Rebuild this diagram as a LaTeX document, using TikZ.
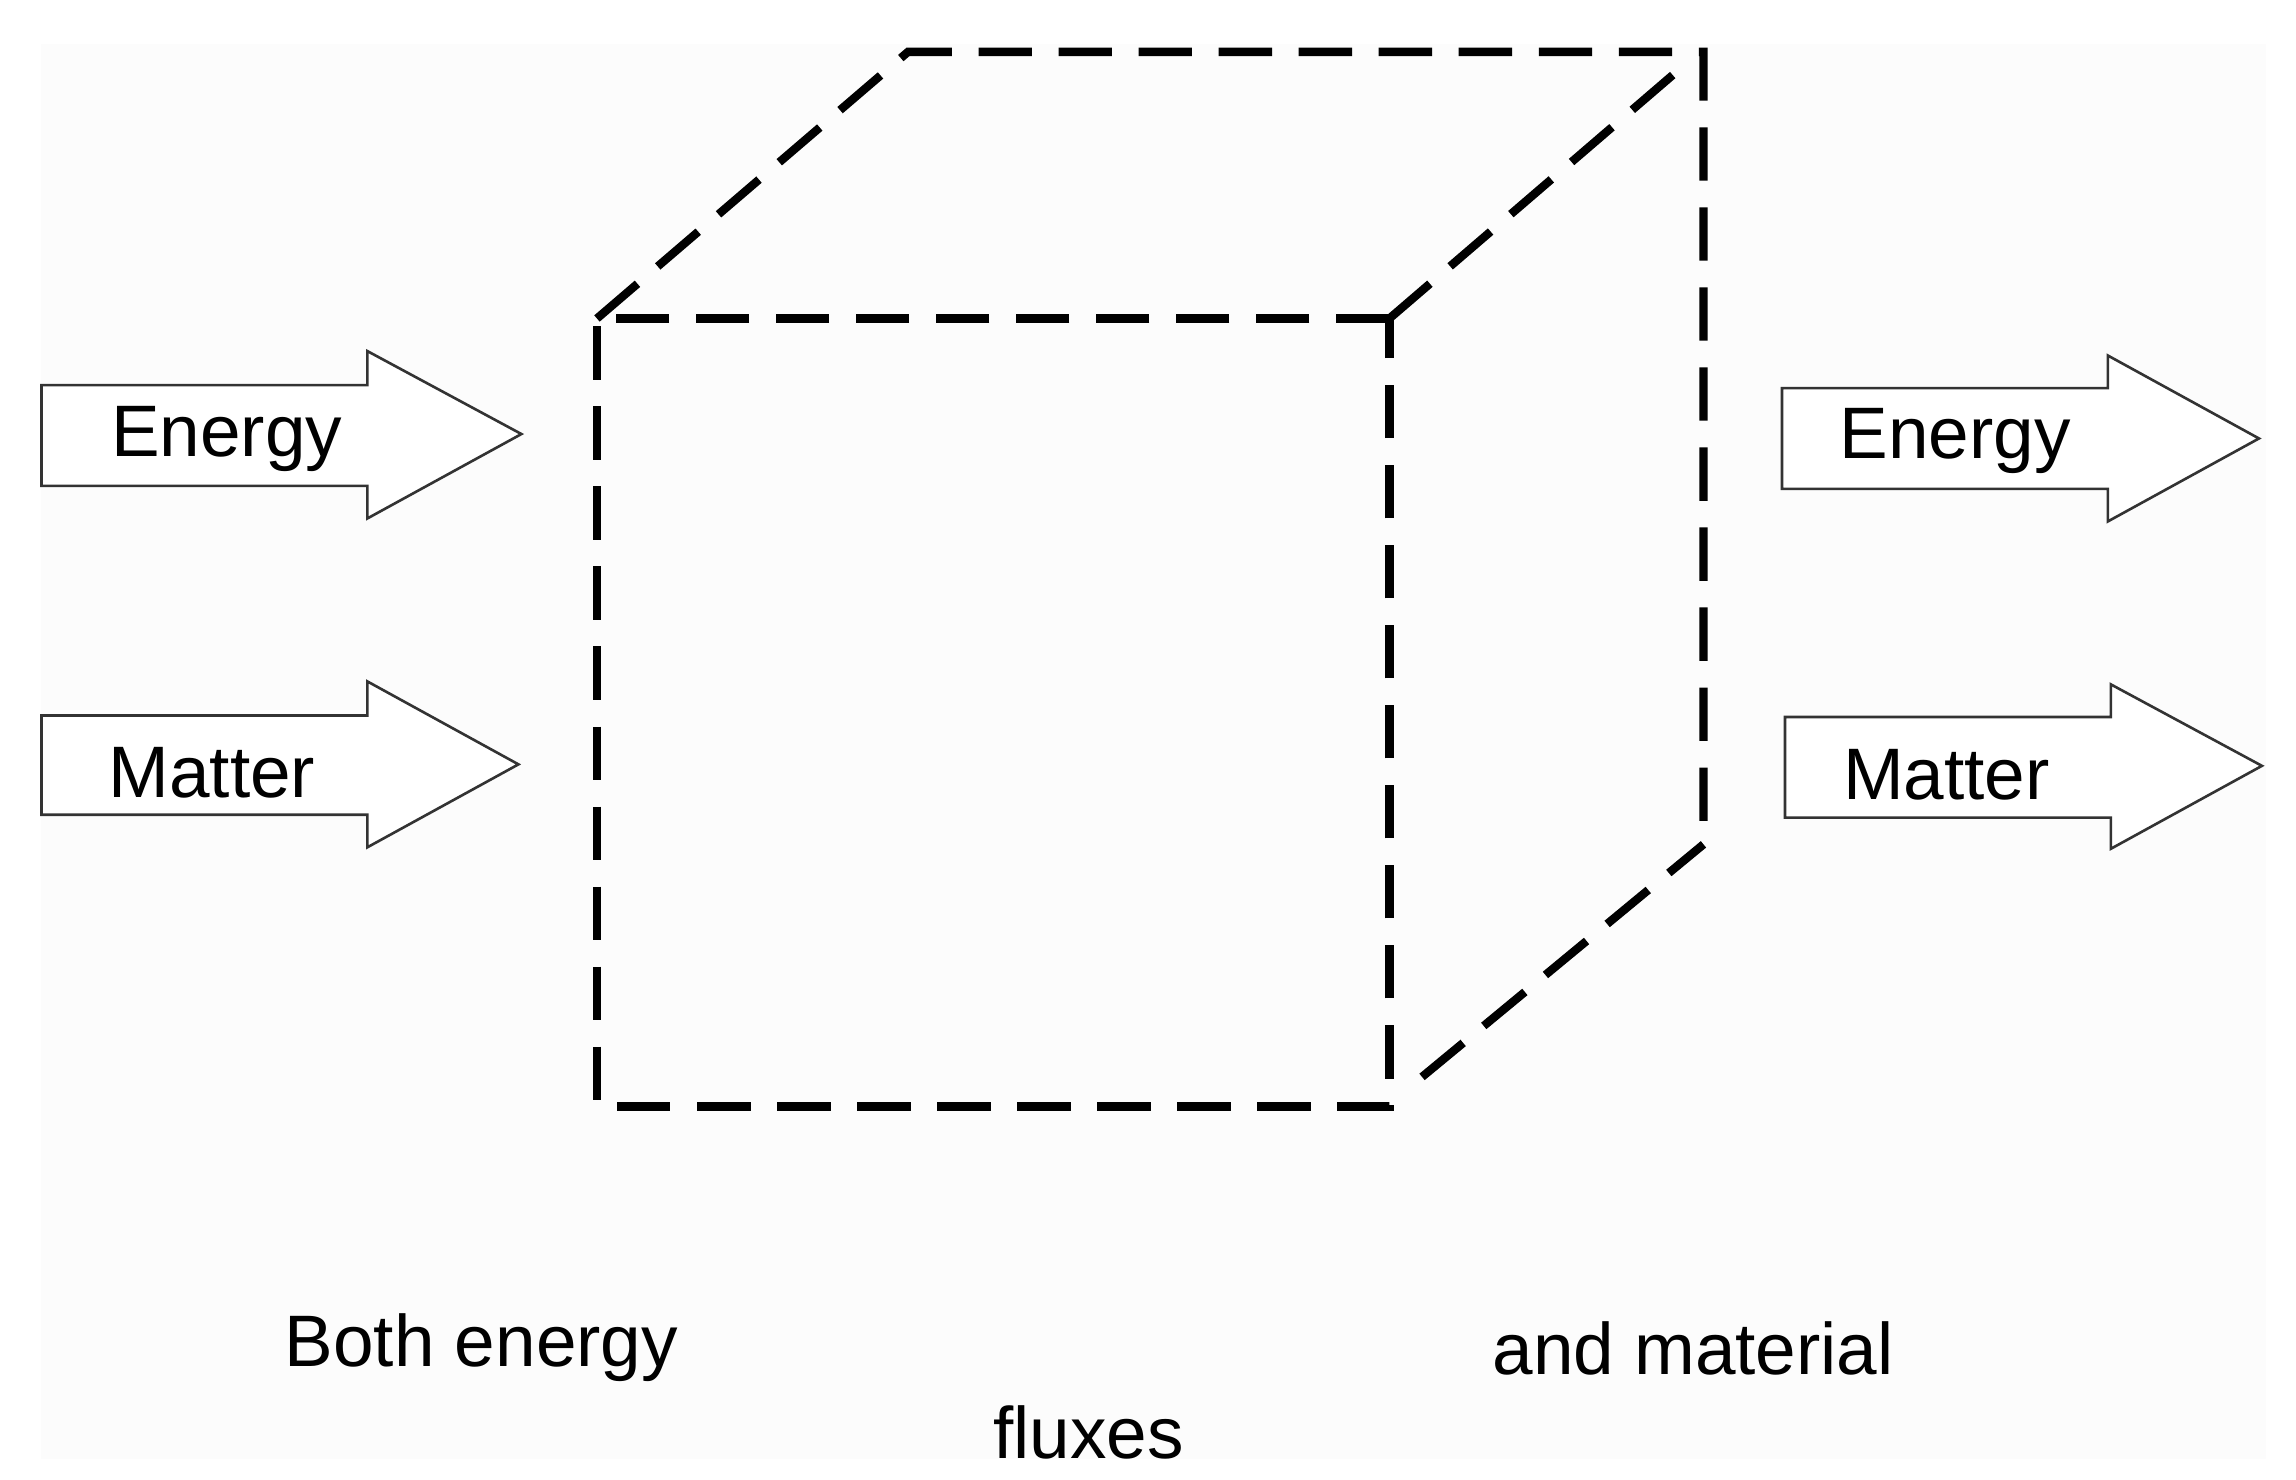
\documentclass[tikz,border=0pt]{standalone}
\usepackage{fontspec}
\setmainfont{Liberation Sans}
\begin{document}
\begin{tikzpicture}[x=0.01cm,y=-0.01cm,
  cube/.style={line width=1.6pt,dash pattern=on 0.36cm off 0.18cm},
  flow/.style={draw=black!80,line width=0.5pt,fill=white},
  lbl/.style={font=\fontsize{14pt}{16pt}\selectfont,inner sep=0pt}]
\useasboundingbox (0,0) rectangle (1550,999);
\fill[black!1] (28,30) rectangle (1530,985);
% cube
\coordinate (a) at (403,215); \coordinate (b) at (938,215);
\coordinate (c) at (938,747); \coordinate (d) at (403,747);
\coordinate (e) at (613,35); \coordinate (f) at (1150,35);
\coordinate (g) at (1150,570);
\draw[cube] (b) -- (a) -- (d) -- (c) -- (b);
\draw[cube] (a) -- (e) -- (f) -- (g);
\draw[cube] (b) -- (1130,50);
\draw[cube] (960,727) -- (g);
% arrows
\draw[flow] (28,260) -- (248,260) -- (248,237) -- (352,293) -- (248,350) -- (248,328) -- (28,328) -- cycle;
\draw[flow] (28,483) -- (248,483) -- (248,460) -- (350,516) -- (248,572) -- (248,550) -- (28,550) -- cycle;
\draw[flow] (1203,262) -- (1423,262) -- (1423,240) -- (1525,296) -- (1423,352) -- (1423,330) -- (1203,330) -- cycle;
\draw[flow] (1205,484) -- (1425,484) -- (1425,462) -- (1527,517) -- (1425,573) -- (1425,552) -- (1205,552) -- cycle;
\node[lbl] (t1) at (153,296) {Energy};
\node[lbl] (t2) at (143,522) {Matter};
\node[lbl] (t3) at (1320,298) {Energy};
\node[lbl] (t4) at (1314,523) {Matter};
\node[lbl] (t5) at (325,910) {Both energy};
\node[lbl] (t6) at (1143,910) {and material};
\node[lbl] (t7) at (735,967) {fluxes};
\end{tikzpicture}
\end{document}
